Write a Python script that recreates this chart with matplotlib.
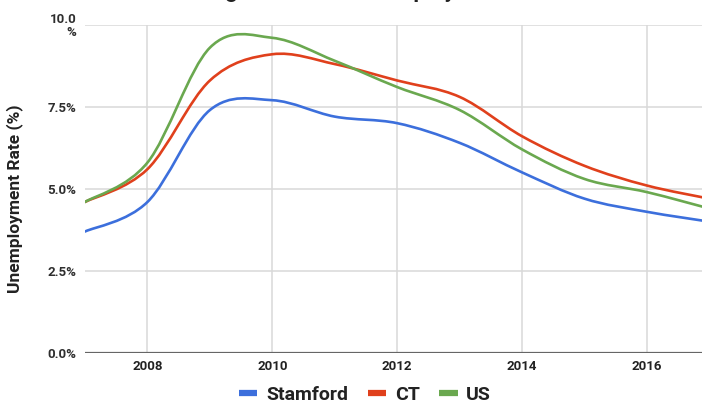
import numpy as np
import matplotlib
matplotlib.use("Agg")
import matplotlib.pyplot as plt
from matplotlib.path import Path
from matplotlib.patches import PathPatch
from matplotlib.lines import Line2D

plt.rcParams['font.family'] = ['Roboto', 'DejaVu Sans']

# annual unemployment rate (%)
years = [2007, 2008, 2009, 2010, 2011, 2012, 2013, 2014, 2015, 2016, 2017]
stamford = [3.7, 4.6, 7.4, 7.7, 7.2, 7.0, 6.4, 5.5, 4.7, 4.3, 4.0]
ct = [4.6, 5.6, 8.3, 9.1, 8.8, 8.3, 7.8, 6.6, 5.7, 5.1, 4.7]
us = [4.6, 5.8, 9.3, 9.6, 8.9, 8.1, 7.4, 6.2, 5.3, 4.9, 4.4]

series = [("Stamford", stamford, '#3c6fdc'),
          ("CT", ct, '#e0401c'),
          ("US", us, '#6aa84f')]

title = "Change in Annual Unemployment Rate"
ytick_vals = [0, 2.5, 5.0, 7.5, 10.0]
ytick_labels = ["0.0%", "2.5%", "5.0%", "7.5%", "10.0\n%"]
xtick_vals = [2008, 2010, 2012, 2014, 2016]


def smooth_path(x, y):
    # cubic bezier through the points (catmull-rom style control points)
    pts = np.column_stack([x, y]).astype(float)
    ext = np.vstack([pts[0], pts, pts[-1]])
    verts = [pts[0]]
    codes = [Path.MOVETO]
    for i in range(1, len(ext) - 2):
        p0, p1, p2, p3 = ext[i - 1], ext[i], ext[i + 1], ext[i + 2]
        c1 = p1 + (p2 - p0) / 6
        c2 = p2 - (p3 - p1) / 6
        verts += [c1, c2, p2]
        codes += [Path.CURVE4] * 3
    return Path(verts, codes)


fig = plt.figure(figsize=(7.02, 4.05), dpi=100)
ax = fig.add_axes([85 / 702, 1 - 353 / 405, 1 - 85 / 702, (353 - 24.7) / 405])

for name, vals, col in series:
    patch = PathPatch(smooth_path(years, vals), fill=False, edgecolor=col,
                      lw=1.9, transform=ax.transData, zorder=3,
                      capstyle='round', joinstyle='round')
    ax.add_patch(patch)

ax.set_xlim(2007, 2016.88)
ax.set_ylim(0, 10)

ax.set_yticks(ytick_vals)
ax.set_yticklabels(ytick_labels, fontweight='bold', fontsize=9.5,
                   color='#2e2e2e', ha='right', multialignment='right',
                   linespacing=1.0)
ax.set_xticks(xtick_vals)
ax.set_xticklabels([str(v) for v in xtick_vals], fontweight='bold',
                   fontsize=9.5, color='#222222')
ax.tick_params(axis='both', length=0)
ax.tick_params(axis='y', pad=6)
ax.tick_params(axis='x', pad=5)

ax.grid(True, color='#d9d9d9', lw=1.1, zorder=0)
for s in ax.spines.values():
    s.set_visible(False)
ax.axhline(0, color='#666666', lw=1.6, zorder=2)
ax.set_axisbelow(True)

fig.text(15 / 702, 1 - 199 / 405, "Unemployment Rate (%)", rotation=90,
         ha='center', va='center', fontsize=12.5, fontweight='bold',
         color='#222222')

# title sits almost entirely above the visible area, as in the cropped original
fig.text(174 / 702, 1 + 2.5 / 405, title, ha='left', va='baseline',
         fontsize=16, fontweight='bold', color='#222222')

handles = [Line2D([], [], color=c, lw=4.5, solid_capstyle='butt')
           for _, _, c in series]
fig.legend(handles, [n for n, _, _ in series], loc='center',
           bbox_to_anchor=(365 / 702, 1 - 395 / 405), ncol=3, frameon=False,
           prop={'weight': 'bold', 'size': 14}, handlelength=0.95,
           handletextpad=0.45, columnspacing=1.0, labelcolor='#222222')

plt.savefig('out.png', dpi=100)
